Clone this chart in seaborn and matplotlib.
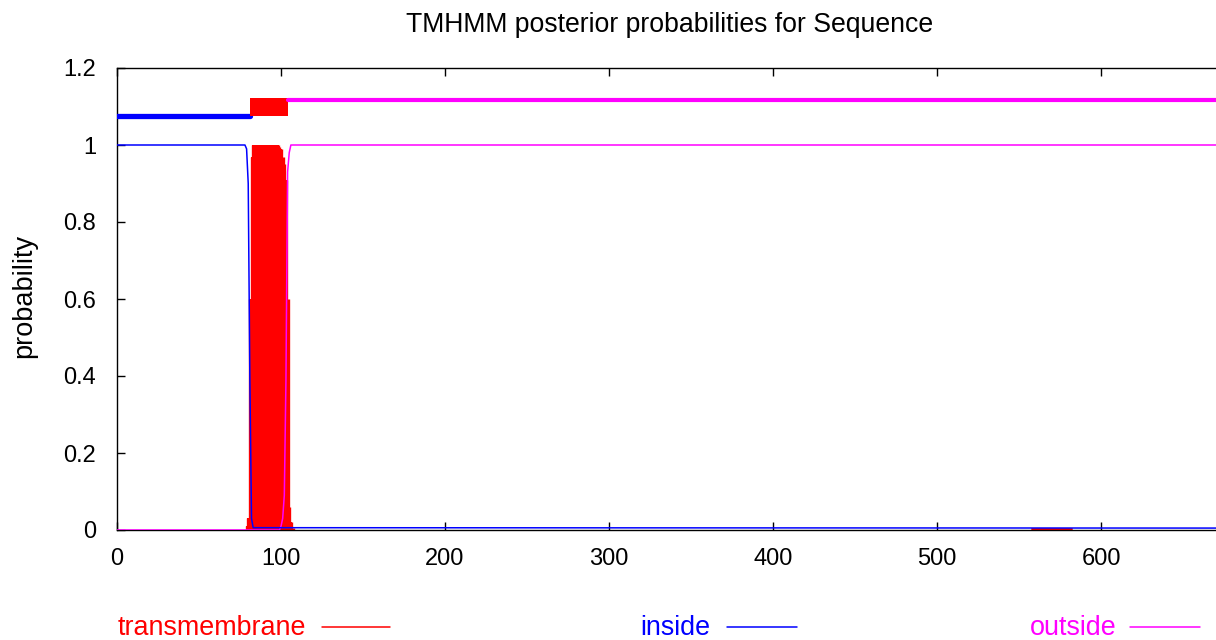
import matplotlib
matplotlib.use("Agg")
import matplotlib.pyplot as plt
import seaborn as sns
import pandas as pd
from matplotlib.lines import Line2D

# ---------------- data ----------------
title = "TMHMM posterior probabilities for Sequence"
x_ticks = [0, 100, 200, 300, 400, 500, 600]
y_ticks = [0, 0.2, 0.4, 0.6, 0.8, 1.0, 1.2]
y_tick_labels = ["0", "0.2", "0.4", "0.6", "0.8", "1", "1.2"]
x_max = 670

# posterior probability: inside (breakpoints along the sequence)
inside_pos = [0, 78, 79, 80, 81, 82, 83, 670]
inside_prob = [1.0, 1.0, 0.99, 0.90, 0.39, 0.03, 0.006, 0.005]

# posterior probability: outside
outside_pos = [0, 99, 100, 101, 102, 103, 104, 105, 106, 670]
outside_prob = [0.0, 0.0, 0.01, 0.03, 0.09, 0.39, 0.93, 0.98, 1.0, 1.0]

# posterior probability: transmembrane (per residue, impulses)
tm_pos = [78, 79, 80, 81, 82, 83, 84, 85, 86, 87, 88, 89, 90, 91, 92, 93, 94,
          95, 96, 97, 98, 99, 100, 101, 102, 103, 104, 105, 106, 107]
tm_prob = [0.0, 0.01, 0.03, 0.60, 0.97, 1.0, 1.0, 1.0, 1.0, 1.0, 1.0, 1.0, 1.0,
           1.0, 1.0, 1.0, 1.0, 1.0, 1.0, 1.0, 1.0, 0.995, 0.99, 0.97, 0.95,
           0.91, 0.60, 0.06, 0.02, 0.005]
tm_small_pos = [558, 582]
tm_small_prob = [0.002, 0.002]

# predicted topology bars at top
topo_inside = [0, 81]
topo_inside_y = 1.075
topo_tm = [81, 104]
topo_tm_y = [1.075, 1.122]
topo_outside = [104, 670]
topo_outside_y = 1.117

RED, BLUE, MAG = "#ff0000", "#0000ff", "#ff00ff"

# ---------------- plot ----------------
sns.set_style("white")
plt.rcParams["font.family"] = ["Liberation Sans", "DejaVu Sans"]
plt.rcParams["text.color"] = "black"

fig = plt.figure(figsize=(12.16, 6.4), dpi=100)
ax = fig.add_axes([117 / 1216, 110 / 640, 1 - 117 / 1216, (530 - 68) / 640])

# transmembrane impulses
ax.fill_between(tm_pos, 0, tm_prob, step="mid", color=RED, lw=0, zorder=2)
ax.vlines(tm_pos, 0, tm_prob, color=RED, lw=2.4, zorder=2)
sns.lineplot(x=tm_small_pos, y=tm_small_prob, ax=ax, color=RED, lw=1.4, zorder=2)

# inside / outside lines
sns.lineplot(data=pd.DataFrame({"pos": inside_pos, "p": inside_prob}), x="pos", y="p",
             ax=ax, color=BLUE, lw=1.1, zorder=4)
sns.lineplot(data=pd.DataFrame({"pos": outside_pos, "p": outside_prob}), x="pos", y="p",
             ax=ax, color=MAG, lw=1.1, zorder=3)

# topology bars
sns.lineplot(x=topo_inside, y=[topo_inside_y] * 2, ax=ax, color=BLUE, lw=3.8, zorder=3)
ax.fill_between(topo_tm, topo_tm_y[0], topo_tm_y[1], color=RED, lw=0, zorder=3)
sns.lineplot(x=topo_outside, y=[topo_outside_y] * 2, ax=ax, color=MAG, lw=3.0, zorder=3)

ax.set_xlim(0, x_max)
ax.set_ylim(0, 1.2)
ax.set_xticks(x_ticks)
ax.set_xticklabels([str(v) for v in x_ticks])
ax.set_yticks(y_ticks)
ax.set_yticklabels(y_tick_labels)
ax.tick_params(axis="both", direction="in", length=6, width=1, colors="black",
               labelsize=17, top=True, right=False, bottom=True, left=True)
ax.tick_params(axis="x", pad=13)
ax.tick_params(axis="y", pad=15)
for side in ["left", "bottom", "top"]:
    ax.spines[side].set_visible(True)
    ax.spines[side].set_color("black")
    ax.spines[side].set_linewidth(1.0)
ax.spines["right"].set_visible(False)
ax.set_xlabel("")
ax.set_ylabel("")
ax.grid(False)

fig.text(670 / 1216, 1 - 25 / 640, title, ha="center", va="center",
         fontsize=19.2, color="black")
fig.text(24 / 1216, 1 - 296 / 640, "probability", rotation=90, ha="center",
         va="center", fontsize=19.5, color="black")

# legend at bottom
leg_y = 1 - 628 / 640
legend_items = [("transmembrane", RED, 118, 322, 390),
                ("inside", BLUE, 640, 727, 797),
                ("outside", MAG, 1030, 1130, 1200)]
for label, col, tx, lx0, lx1 in legend_items:
    fig.text(tx / 1216, leg_y, label, color=col, ha="left", va="center", fontsize=19.4)
    fig.add_artist(Line2D([lx0 / 1216, lx1 / 1216], [leg_y + 0.002, leg_y + 0.002],
                          color=col, lw=1.1, transform=fig.transFigure))

fig.savefig("out.png", dpi=100)
